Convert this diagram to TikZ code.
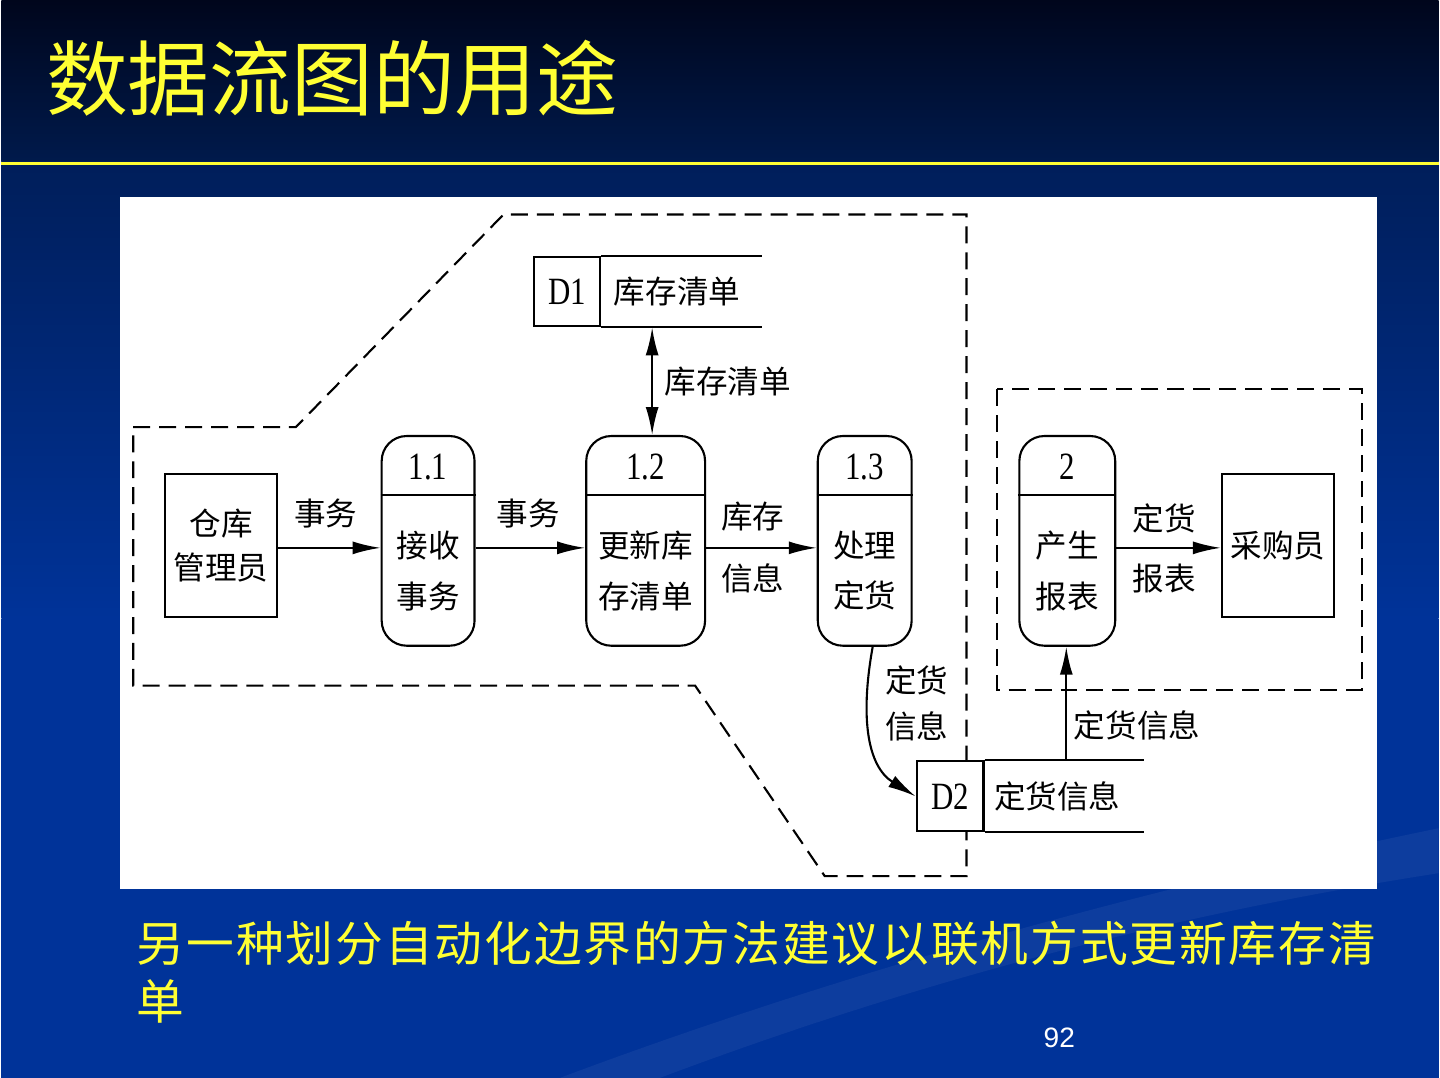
\documentclass[tikz,border=0pt]{standalone}
\usepackage{fontspec}
\setmainfont{Liberation Serif}
\setsansfont{Liberation Sans}
\newfontfamily\cjk{Noto Sans CJK SC}
\newfontfamily\numfont[FakeStretch=0.8]{Liberation Serif}
\usetikzlibrary{arrows.meta}

\definecolor{headtop}{RGB}{0,6,28}
\definecolor{headbot}{RGB}{0,26,76}
\definecolor{bodytop}{RGB}{0,30,90}
\definecolor{slideblue}{RGB}{0,51,153}
\definecolor{titleyellow}{RGB}{255,255,51}

\begin{document}
\begin{tikzpicture}[x=0.01cm,y=-0.01cm,
  ent/.style={draw,line width=0.6pt,minimum width=1.12cm,minimum height=1.43cm,
    inner sep=0pt,align=center,font=\cjk\fontsize{9}{12.7}\selectfont},
  proc/.style={draw,line width=0.6pt,rounded corners=0.25cm,minimum height=2.1cm,inner sep=0pt},
  cell/.style={draw,line width=0.6pt,minimum width=0.66cm,minimum height=0.69cm,
    inner sep=0pt,font=\numfont\fontsize{11}{11}\selectfont},
  num/.style={inner sep=0pt,font=\numfont\fontsize{11}{11}\selectfont},
  lbl/.style={inner sep=0pt,align=center,font=\cjk\fontsize{9}{14.4}\selectfont},
  flow/.style={line width=0.6pt,-{Latex[length=0.28cm,width=0.13cm]}},
  bound/.style={line width=0.6pt,dash pattern=on 0.17cm off 0.09cm}]

% slide background
\shade[top color=headtop,bottom color=headbot] (0,0) rectangle (1440,162);
\shade[top color=bodytop,bottom color=slideblue] (0,162) rectangle (1440,620);
\fill[slideblue] (0,620) rectangle (1440,1080);
\fill[white,opacity=0.05] (1440,830) .. controls (1100,900) and (800,990) .. (560,1080)
  -- (660,1080) .. controls (900,990) and (1150,920) .. (1440,875) -- cycle;
\draw[titleyellow,line width=0.03cm] (0,163.5) -- (1440,163.5);
\node[anchor=west,inner sep=0pt,text=titleyellow,font=\cjk\fontsize{23.3}{23.3}\selectfont]
  (title) at (44,78) {数据流图的用途};

% white panel
\fill[white] (119,197) rectangle (1378,891);

% automation boundaries
\draw[bound] (132,428) -- (295,428) -- (503,215) -- (967,215) -- (967,878)
  -- (825,878) -- (695,687) -- (132,687) -- cycle;
\draw[bound] (998,390) rectangle (1363,691);
\fill[white] (917,763) rectangle (1144,833);

% external entities
\node[ent] (clerk) at (220,546.5) {仓库\\管理员};
\node[ent] (buyer) at (1279,546.5) {采购员};

% processes
\foreach \n/\cx/\w/\id/\txt in {p11/427.5/0.93/1.1/{接收\\事务},
    p12/645.5/1.19/1.2/{更新库\\存清单}, p13/865/0.94/1.3/{处理\\定货},
    p2/1068/0.96/2/{产生\\报表}} {
  \node[proc,minimum width=\w cm] (\n) at (\cx,542) {};
  \node[num] (\n-id) at (\cx,468) {\id};
  \node[lbl] (\n-txt) at (\cx,572) {\txt};
  \draw[line width=0.6pt] (\n.west |- 0,496) -- (\n.east |- 0,496);
}

% data stores
\node[cell] (d1) at (567,292.5) {D1};
\draw[line width=0.6pt] (d1.north east) -- ++(161,0);
\draw[line width=0.6pt] (d1.south east) -- ++(161,0);
\node[lbl] (d1-name) at (677,292.5) {库存清单};
\node[cell,minimum width=0.67cm,minimum height=0.70cm] (d2) at (950.5,798) {D2};
\draw[line width=0.6pt] (d2.north east) -- ++(160,0);
\draw[line width=0.6pt] (d2.south east) -- ++(160,0);
\node[lbl] (d2-name) at (1058,798) {定货信息};

% data flows
\draw[flow] (clerk.east |- 0,549) -- (p11.west |- 0,549);
\draw[flow] (p11.east |- 0,549) -- (p12.west |- 0,549);
\draw[flow] (p12.east |- 0,549) -- (p13.west |- 0,549);
\draw[flow] (p2.east |- 0,549) -- (buyer.west |- 0,549);
\draw[line width=0.6pt,{Latex[length=0.28cm,width=0.13cm]}-{Latex[length=0.28cm,width=0.13cm]}]
  (d1.south -| 652,0) -- (p12.north -| 652,0);
\draw[flow] (p13.south -| 873,0) .. controls (860,720) and (868,768) .. (d2.west);
\draw[flow] (d2.north -| 1067,0) -- (p2.south -| 1067,0);

% flow labels
\node[lbl] (l-tr1) at (325,515) {事务};
\node[lbl] (l-tr2) at (528,515) {事务};
\node[lbl] (l-inv1) at (753,518) {库存};
\node[lbl] (l-inv2) at (753,580) {信息};
\node[lbl] (l-list) at (728,382) {库存清单};
\node[lbl,font=\cjk\fontsize{9}{13}\selectfont] (l-ord) at (917,705) {定货\\信息};
\node[lbl] (l-ordinfo) at (1138,727) {定货信息};
\node[lbl] (l-rep1) at (1165,520) {定货};
\node[lbl] (l-rep2) at (1165,580) {报表};

% caption and page number
\node[anchor=north west,inner sep=0pt,align=left,text=titleyellow,
  font=\cjk\fontsize{13.6}{16.5}\selectfont\addfontfeature{LetterSpace=4}] (caption) at (135,922)
  {另一种划分自动化边界的方法建议以联机方式更新库存清\\单};
\node[text=white,font=\sffamily\fontsize{8}{8}\selectfont] (page) at (1060,1040) {92};
\end{tikzpicture}
\end{document}
